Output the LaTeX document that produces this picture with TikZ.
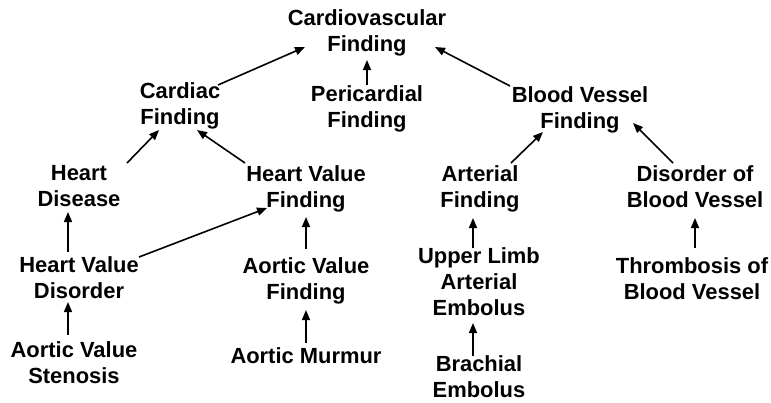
\documentclass[tikz,border=0pt]{standalone}
\usepackage{fontspec}
\setmainfont{Liberation Sans}
\usetikzlibrary{arrows.meta}
\tikzset{
  finding/.style={align=center,inner sep=0pt,font=\fontsize{22}{26}\selectfont\bfseries},
  isa/.style={-{Triangle[length=10bp,width=8bp]},line width=1.6bp}
}

\begin{document}
\begin{tikzpicture}[x=1bp,y=-1bp]
  \useasboundingbox (0,0) rectangle (771,402);
  % top of the hierarchy
  \node[finding] (cv) at (367,33) {Cardiovascular\\Finding};
  \node[finding] (card) at (180,106) {Cardiac\\Finding};
  \node[finding] (peri) at (367,109) {Pericardial\\Finding};
  \node[finding] (bv) at (580,110) {Blood Vessel\\Finding};
  % middle
  \node[finding] (hd) at (79,186) {Heart\\Disease};
  \node[finding] (hvf) at (306,189) {Heart Value\\Finding};
  \node[finding] (art) at (480,189) {Arterial\\Finding};
  \node[finding] (dbv) at (695,187) {Disorder of\\Blood Vessel};
  \node[finding] (hvd) at (79,278) {Heart Value\\Disorder};
  \node[finding] (avf) at (306,281) {Aortic Value\\Finding};
  \node[finding] (ul) at (479,282) {Upper Limb\\Arterial\\Embolus};
  \node[finding] (thr) at (692,279) {Thrombosis of\\Blood Vessel};
  % leaves
  \node[finding] (avs) at (74,363) {Aortic Value\\Stenosis};
  \node[finding] (am) at (306,356) {Aortic Murmur};
  \node[finding] (be) at (479,377) {Brachial\\Embolus};
  % is-a links: child/offset/parent/offset
  \foreach \c/\cx/\cy/\p/\px/\py in {card/38/-21/cv/-62/14, peri/0/-24/cv/0/27,
      bv/-70/-24/cv/68/14, hd/48/-23/card/-21/24, hvf/-61/-26/card/17/24,
      art/31/-26/bv/-37/22, dbv/-22/-24/bv/53/13, hvd/-11/-26/hd/-11/26,
      hvd/60/-21/hvf/-39/19, avf/0/-32/hvf/0/28, avs/-6/-28/hvd/-11/24,
      am/0/-13/avf/0/29, ul/-6/-34/art/-7/29, be/-6/-21/ul/-6/41,
      thr/3/-31/dbv/0/31} {
    \draw[isa] ([shift={(\cx,\cy)}]\c.center) -- ([shift={(\px,\py)}]\p.center);
  }
\end{tikzpicture}
\end{document}
